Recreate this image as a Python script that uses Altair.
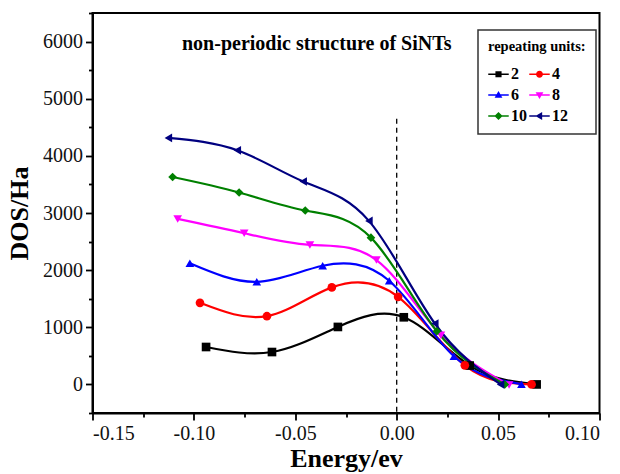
import altair as alt
import pandas as pd

# ---------------- data ----------------
units = ["2", "4", "6", "8", "10", "12"]
colors = ["#000000", "#ff0000", "#0000ff", "#ff00ff", "#008000", "#000080"]
marker_shapes = ["square", "circle", "triangle-up", "triangle-down", "diamond", "triangle-left"]

energy_2 = [-0.094, -0.0615, -0.029, 0.0035, 0.036, 0.069]
dos_2 = [655, 567, 1006, 1175, 330, 0]

energy_4 = [-0.097, -0.064, -0.032, 0.0007, 0.0336, 0.0665]
dos_4 = [1428, 1194, 1698, 1533, 334, 0]

energy_6 = [-0.102, -0.069, -0.0365, -0.0037, 0.0282, 0.0615]
dos_6 = [2119, 1796, 2077, 1814, 492, 5]

energy_8 = [-0.108, -0.0752, -0.0428, -0.010, 0.0218, 0.0554]
dos_8 = [2897, 2646, 2441, 2177, 860, -10]

energy_10 = [-0.1105, -0.0777, -0.0451, -0.0127, 0.0198, 0.0533]
dos_10 = [3630, 3359, 3043, 2569, 931, 0]

energy_12 = [-0.1126, -0.0786, -0.0461, -0.0137, 0.0188, 0.0512]
dos_12 = [4314, 4097, 3552, 2862, 1066, 0]

x_major_ticks = [-0.15, -0.10, -0.05, 0.0, 0.05, 0.10]
x_minor_ticks = [-0.125, -0.075, -0.025, 0.025, 0.075]
y_major_ticks = [0, 1000, 2000, 3000, 4000, 5000, 6000]
y_minor_ticks = [-500, 500, 1500, 2500, 3500, 4500, 5500, 6500]

fermi_x = [0.0]
fermi_top = [4650]
fermi_bottom = [-500]

# legend symbols: marker with a short line through it
legend_shapes = [
    "M-1,-0.08H1V0.08H-1Z M-0.3,-0.3H0.3V0.3H-0.3Z",
    "M-1,-0.08H1V0.08H-1Z M-0.34,0A0.34,0.34 0 1,1 0.34,0A0.34,0.34 0 1,1 -0.34,0Z",
    "M-1,-0.08H1V0.08H-1Z M0,-0.4L0.38,0.26H-0.38Z",
    "M-1,-0.08H1V0.08H-1Z M-0.38,-0.26H0.38L0,0.4Z",
    "M-1,-0.08H1V0.08H-1Z M0,-0.4L0.4,0L0,0.4L-0.4,0Z",
    "M-1,-0.08H1V0.08H-1Z M-0.4,0L0.26,-0.38V0.38Z",
]

series = {
    "2": (energy_2, dos_2), "4": (energy_4, dos_4), "6": (energy_6, dos_6),
    "8": (energy_8, dos_8), "10": (energy_10, dos_10), "12": (energy_12, dos_12),
}
rows = []
for u, (xv_list, yv_list) in series.items():
    for xv, yv in zip(xv_list, yv_list):
        rows.append({"energy": xv, "dos": yv, "units": u})
df = pd.DataFrame(rows)
rule_df = pd.DataFrame({"x": fermi_x, "y": fermi_top, "y2": fermi_bottom})

SERIF = "Liberation Serif"
X_DOMAIN = [-0.15, 0.10]
Y_DOMAIN = [-500, 6500]


def xs(field, axis=None):
    return alt.X(field, scale=alt.Scale(domain=X_DOMAIN, nice=False, zero=False), axis=axis)


def ys(field, axis=None):
    return alt.Y(field, scale=alt.Scale(domain=Y_DOMAIN, nice=False, zero=False), axis=axis)


x_main_axis = alt.Axis(
    orient="bottom",
    values=x_major_ticks,
    title="Energy/ev",
    labelExpr="replace(format(datum.value, '.2f'), '\u2212', '-')",
    tickSize=7,
    labelOverlap=False,
    labelPadding=3,
    titlePadding=2,
)
y_main_axis = alt.Axis(
    orient="left",
    values=y_major_ticks,
    title="DOS/Ha",
    format="d",
    tickSize=7,
    labelOverlap=False,
    labelPadding=3,
    titlePadding=10,
)
x_minor_axis = alt.Axis(
    orient="bottom", values=x_minor_ticks, labels=False, tickSize=4, domain=False, title=None
)
y_minor_axis = alt.Axis(
    orient="left", values=y_minor_ticks, labels=False, tickSize=4, domain=False, title=None
)

color_scale = alt.Scale(domain=units, range=colors)

base = alt.Chart(df)

lines = base.mark_line(interpolate="natural", strokeWidth=2.2).encode(
    x=xs("energy:Q", x_main_axis),
    y=ys("dos:Q", y_main_axis),
    color=alt.Color("units:N", scale=color_scale, legend=None),
)

points = base.mark_point(filled=True, size=75, opacity=1).encode(
    x=xs("energy:Q"),
    y=ys("dos:Q"),
    color=alt.Color("units:N", scale=color_scale, legend=None),
    shape=alt.Shape("units:N", scale=alt.Scale(domain=units, range=marker_shapes), legend=None),
)

leg = alt.Legend(
    title="repeating units:",
    orient="none",
    direction="horizontal",
    legendX=385.5,
    legendY=17,
    columns=2,
    columnPadding=2,
    rowPadding=2,
    padding=10,
    strokeColor="#333333",
    fillColor="white",
    symbolSize=420,
    symbolStrokeWidth=0,
    symbolOpacity=1,
    labelOffset=2,
    labelFont=SERIF,
    labelFontSize=16,
    labelFontWeight="bold",
    labelColor="black",
    titleFont=SERIF,
    titleFontSize=14.5,
    titleFontWeight="bold",
    titleColor="black",
    titlePadding=9,
)

# invisible layer that carries the legend and the minor tick axes
legend_layer = base.mark_point(filled=True, size=60, opacity=0).encode(
    x=xs("energy:Q", x_minor_axis),
    y=ys("dos:Q", y_minor_axis),
    color=alt.Color("units:N", scale=color_scale, legend=leg),
    shape=alt.Shape("units:N", scale=alt.Scale(domain=units, range=legend_shapes), legend=leg),
)

fermi = alt.Chart(rule_df).mark_rule(strokeDash=[5, 4], color="black", strokeWidth=1.3).encode(
    x=xs("x:Q"), y=ys("y:Q"), y2="y2:Q"
)

chart = (
    alt.layer(fermi, lines, points, legend_layer)
    .resolve_scale(color="independent", shape="independent", x="independent", y="independent")
    .properties(
        width=507,
        height=400,
        autosize=alt.AutoSizeParams(type="none"),
        padding={"left": 84.5, "top": 5, "right": 12, "bottom": 61},
        title=alt.TitleParams(
            text="non-periodic structure of SiNTs",
            anchor="start",
            frame="group",
            dx=89.5,
            dy=42,
            offset=0,
            baseline="top",
            font=SERIF,
            fontSize=20,
            fontWeight="bold",
            color="black",
        ),
    )
    .configure_view(stroke="black", strokeWidth=2)
    .configure_legend(strokeWidth=1.5)
    .configure_axis(
        grid=False,
        domainColor="black",
        domainWidth=2,
        tickColor="black",
        tickWidth=1.8,
        labelFont=SERIF,
        labelFontSize=20,
        labelColor="#111111",
        titleFont=SERIF,
        titleFontSize=26,
        titleFontWeight="bold",
        titleColor="black",
    )
)

chart.save("out.html", embed_options={"renderer": "svg", "actions": False})
